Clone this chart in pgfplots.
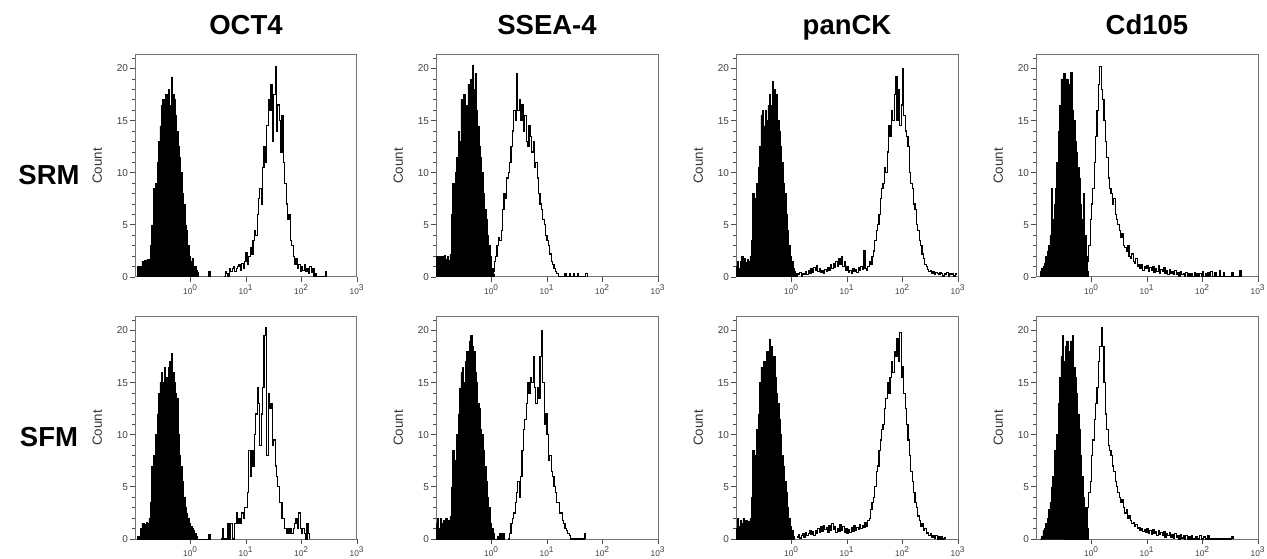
\documentclass[border=0pt]{standalone}
\usepackage{fontspec}
\setmainfont{Liberation Sans}
\usepackage{pgfplots}
\pgfplotsset{compat=1.18}
% Flow cytometry histograms: channels are 0.025 decades wide (log10 of intensity)
\pgfplotsset{
  table/row sep=\\,
  table/header=false,
  facs/.style={
    scale only axis, width=133.2pt, height=133.2pt, anchor=south west,
    xmin=-1, xmax=3, ymin=0, ymax=21.3,
    axis line style={draw=black!55, line width=0.6pt},
    xtick={0,1,2,3},
    xticklabels={10\textsuperscript{0},10\textsuperscript{1},10\textsuperscript{2},10\textsuperscript{3}},
    ytick={0,5,10,15,20}, yticklabels={0,5,10,15,20},
    minor ytick={1,2,3,4,6,7,8,9,11,12,13,14,16,17,18,19,21},
    tick align=outside, tick pos=left,
    major tick length=3pt, minor tick length=1.6pt,
    every tick/.style={black!70, line width=0.5pt},
    xticklabel style={font=\fontsize{5}{6}\selectfont, text=black!75, inner sep=0.5pt, yshift=-1.2pt},
    yticklabel style={font=\fontsize{6}{7}\selectfont, text=black!75, inner sep=1pt},
    ylabel={Count},
    ylabel style={font=\fontsize{8}{9}\selectfont, text=black!80, at={(axis description cs:-0.17,0.5)}, anchor=center},
  },
  filled/.style={const plot, draw=black, fill=black, line width=0.4pt},
  openhist/.style={const plot, draw=black, line width=0.7pt, fill=none},
}
\begin{document}
\begin{tikzpicture}
\useasboundingbox (0,0) rectangle (760.2pt,334.8pt);
% column and row headings
\tikzset{head/.style={font=\fontsize{16.5}{18}\selectfont\bfseries, inner sep=0pt, anchor=base}}
\node[head] at (147.6pt,313.8pt) {OCT4};
\node[head] at (328.2pt,313.8pt) {SSEA-4};
\node[head] at (508.2pt,313.8pt) {panCK};
\node[head] at (688.2pt,313.8pt) {Cd105};
\node[head] at (29.4pt,223.8pt) {SRM};
\node[head] at (29.4pt,66.6pt) {SFM};

% ---------------- SRM: OCT4
\begin{axis}[facs, at={(81pt,168.6pt)}]
\addplot[filled] table[x expr={-0.975+0.025*\coordindex}, y index=0] {
0\\ 1\\ 0.3\\ 1\\ 1.5\\ 1.4\\ 1.6\\ 1.3\\ 1.7\\ 1.5\\ 3\\ 5\\ 8.5\\ 6\\ 9\\ 11\\ 13\\ 14.5\\ 16.5\\ 17\\
15.5\\ 17.5\\ 16\\ 18\\ 16.5\\ 19.2\\ 17.5\\ 17\\ 15.5\\ 14\\ 12.5\\ 11.5\\ 10\\ 8\\ 7\\ 5\\ 4.5\\ 3\\ 2\\ 1.5\\
1.8\\ 1\\ 1\\ 0.6\\ 0.4\\ 0\\ 0\\ 0\\ 0\\ 0\\ 0\\ 0\\ 0.5\\ 0\\
} \closedcycle;
\addplot[openhist] table[x expr={0.6+0.025*\coordindex}, y index=0] {
0\\ 0.5\\ 0.3\\ 0\\ 0.8\\ 0.5\\ 0.8\\ 1\\ 0.5\\ 0.8\\ 1\\ 1.2\\ 0.6\\ 1.3\\ 0.8\\ 1.5\\ 2.3\\ 1.2\\ 2\\ 2.8\\
2.2\\ 3.5\\ 4.5\\ 4\\ 6\\ 7.5\\ 8.5\\ 7\\ 10.5\\ 12.5\\ 11\\ 14.5\\ 17\\ 16\\ 18.5\\ 13\\ 17.5\\ 20.2\\ 14\\ 16.5\\
15\\ 12\\ 15.5\\ 11\\ 9\\ 7\\ 5.5\\ 6\\ 3.5\\ 3\\ 2\\ 1.2\\ 1.8\\ 0.8\\ 1.2\\ 0.5\\ 1\\ 0.6\\ 1.2\\ 0.5\\
0.8\\ 0.3\\ 1\\ 0.4\\ 0.8\\ 0\\ 0.3\\ 0\\ 0\\ 0\\ 0\\ 0\\ 0\\ 0.5\\ 0\\
};
\end{axis}

% ---------------- SRM: SSEA-4
\begin{axis}[facs, at={(261.6pt,168.6pt)}]
\addplot[filled] table[x expr={-1+0.025*\coordindex}, y index=0] {
2\\ 1\\ 2\\ 1.2\\ 2\\ 1.8\\ 2.1\\ 1.7\\ 2\\ 1.6\\ 2.2\\ 6\\ 9\\ 7\\ 10\\ 11.5\\ 14\\ 13\\ 17\\ 16\\
17.5\\ 15\\ 16.5\\ 18.5\\ 17.5\\ 19\\ 20.3\\ 18\\ 19.5\\ 16\\ 14.5\\ 12.5\\ 11.5\\ 10\\ 8\\ 6.5\\ 5.5\\ 4\\ 3\\ 2\\
0.8\\ 0.3\\ 0\\
} \closedcycle;
\addplot[openhist] table[x expr={0+0.025*\coordindex}, y index=0] {
0\\ 0.5\\ 1.5\\ 2\\ 3\\ 3.8\\ 3.5\\ 4.5\\ 6.5\\ 8\\ 7.5\\ 9.5\\ 10\\ 11\\ 12.5\\ 14\\ 16\\ 15\\ 19.5\\ 16\\
17\\ 15\\ 16.5\\ 14\\ 15.5\\ 13\\ 12.5\\ 14.5\\ 13.5\\ 12\\ 13\\ 10.5\\ 11\\ 9.5\\ 8\\ 7\\ 6.5\\ 5.5\\ 5\\ 4\\
3.5\\ 3\\ 2.2\\ 1.5\\ 1.2\\ 0.8\\ 0.5\\ 0.3\\ 0\\ 0\\ 0\\ 0\\ 0\\ 0.3\\ 0\\ 0\\ 0.3\\ 0\\ 0\\ 0.3\\
0\\ 0\\ 0.3\\ 0\\ 0\\ 0\\ 0\\ 0\\ 0.3\\ 0\\
};
\end{axis}

% ---------------- SRM: panCK
\begin{axis}[facs, at={(441.6pt,168.6pt)}]
\addplot[filled] table[x expr={-1+0.025*\coordindex}, y index=0] {
1\\ 1.5\\ 0.8\\ 1.5\\ 2\\ 1.6\\ 1.8\\ 1.4\\ 1.7\\ 1.5\\ 2\\ 3.5\\ 8\\ 5\\ 7.5\\ 9\\ 10.5\\ 12.5\\ 15.5\\ 16\\
14.5\\ 16\\ 15\\ 16.5\\ 17.5\\ 16.5\\ 18.8\\ 18\\ 17\\ 17.5\\ 15\\ 14\\ 12.5\\ 11\\ 9\\ 8\\ 6\\ 4.5\\ 3\\ 2\\
1.5\\ 0.8\\ 0.5\\ 0.2\\ 0\\
} \closedcycle;
\addplot[openhist] table[x expr={0.075+0.025*\coordindex}, y index=0] {
0\\ 0.3\\ 0.2\\ 0.4\\ 0.1\\ 0.3\\ 0.2\\ 0.5\\ 0.2\\ 0.6\\ 0.3\\ 0.8\\ 0.4\\ 0.9\\ 0.6\\ 1.1\\ 0.5\\ 0.8\\ 0.4\\ 0.6\\
0.3\\ 0.7\\ 0.5\\ 0.9\\ 0.6\\ 1.2\\ 0.8\\ 1.3\\ 0.9\\ 1.5\\ 1\\ 1.8\\ 1.2\\ 2\\ 1\\ 1.5\\ 0.6\\ 1\\ 0.4\\ 0.6\\
0.3\\ 0.8\\ 0.5\\ 0.7\\ 0.4\\ 0.9\\ 0.6\\ 1\\ 0.7\\
2.5\\ 0.8\\ 0.6\\ 1\\ 1.5\\ 1.2\\ 2\\ 2.5\\ 3.5\\ 4.5\\ 5\\ 6\\ 7.5\\ 8.5\\ 9\\ 10.5\\ 10\\ 12\\ 14.5\\ 13.5\\
16\\ 15\\ 17.5\\ 19.2\\ 15\\ 18\\ 14.5\\ 16.5\\ 20\\ 15.5\\ 14\\ 13.5\\ 12.5\\ 10\\ 9\\ 8.5\\ 7\\ 6.5\\ 5\\ 4.5\\
3.5\\ 3\\ 2.2\\ 1.8\\ 1.2\\ 1\\ 0.7\\ 0.5\\ 0.6\\ 0.3\\ 0.5\\ 0.2\\ 0.4\\ 0.3\\ 0.2\\ 0.4\\ 0.3\\ 0.1\\ 0.3\\ 0.2\\
0.4\\ 0.1\\ 0.3\\ 0.2\\ 0.3\\ 0.1\\ 0.3\\ 0.2\\
};
\end{axis}

% ---------------- SRM: Cd105
\begin{axis}[facs, at={(621.6pt,168.6pt)}]
\addplot[filled] table[x expr={-0.95+0.025*\coordindex}, y index=0] {
0\\ 0.5\\ 0.8\\ 1\\ 1.3\\ 2\\ 2.5\\ 3\\ 4\\ 8.5\\ 5.5\\ 7\\ 8.5\\ 11\\ 14\\ 16.5\\ 19\\ 17\\ 19.5\\ 18\\
19\\ 17.5\\ 18.5\\ 19.6\\ 16\\ 15\\ 13\\ 12\\ 10.5\\ 9.5\\ 7\\ 5.5\\ 8\\ 4\\ 2\\ 0.5\\ 0\\
} \closedcycle;
\addplot[openhist] table[x expr={-0.125+0.025*\coordindex}, y index=0] {
0\\ 0.5\\ 1.5\\ 3\\ 5.5\\ 7\\ 8.5\\ 11\\ 13.5\\ 16\\ 18.5\\ 20.2\\ 18\\ 17\\ 15\\ 13\\ 11.5\\ 9.5\\ 8.5\\ 8\\
7\\ 7.5\\ 6\\ 5.5\\ 5\\ 4.5\\ 3.8\\ 4.2\\ 3\\ 2.8\\ 2.5\\ 3\\ 2\\ 1.8\\ 2.2\\ 1.5\\ 1.3\\ 1.8\\ 1\\ 1.2\\
0.8\\ 1.2\\ 0.6\\ 1\\ 0.8\\ 1.1\\ 0.5\\ 0.9\\ 0.6\\ 1\\ 0.4\\ 0.8\\ 0.5\\ 1.1\\ 0.3\\ 0.7\\ 0.5\\ 0.9\\ 0.3\\ 0.6\\
0.2\\ 0.7\\ 0.3\\ 0.5\\ 0.2\\ 0.6\\ 0.2\\ 0.4\\ 0.1\\ 0.5\\ 0.2\\ 0.3\\ 0.1\\ 0.4\\ 0.1\\ 0.3\\ 0\\ 0.3\\ 0\\ 0.4\\
0\\ 0.3\\ 0\\ 0.3\\ 0\\ 0.5\\ 0\\ 0.3\\ 0\\ 0.4\\ 0\\ 0.5\\ 0\\ 0\\ 0.4\\ 0\\ 0\\ 0.6\\ 0\\ 0\\
0.4\\ 0\\ 0\\ 0\\ 0\\ 0\\ 0.4\\ 0\\ 0\\ 0\\ 0\\ 0\\ 0.6\\ 0\\
};
\end{axis}

% ---------------- SFM: OCT4
\begin{axis}[facs, at={(81pt,11.4pt)}]
\addplot[filled] table[x expr={-0.95+0.025*\coordindex}, y index=0] {
0.3\\ 0\\ 1\\ 1.5\\ 1.5\\ 1.4\\ 1.6\\ 1.5\\ 2\\ 3.5\\ 7\\ 8\\ 6.5\\ 10\\ 12\\ 14\\ 15\\ 16\\ 15\\ 16.5\\
15.5\\ 14.5\\ 16.5\\ 17\\ 17.8\\ 16\\ 15\\ 14\\ 13.5\\ 10\\ 8\\ 7\\ 5.5\\ 4\\ 3\\ 2.5\\ 2\\ 1.5\\ 1.2\\ 1\\
0.8\\ 0.5\\ 0.3\\ 0\\ 0\\ 0\\ 0\\ 0\\ 0\\ 0\\ 0\\ 0.4\\ 0\\
} \closedcycle;
\addplot[openhist] table[x expr={0.55+0.025*\coordindex}, y index=0] {
0\\ 1\\ 0\\ 0\\ 0\\ 1.5\\ 0\\ 1.5\\ 0\\ 0\\ 1.5\\ 2.5\\ 1.5\\ 2\\ 1.5\\ 2.5\\ 2\\ 3\\
3\\ 4.5\\ 8.5\\ 6\\ 8.5\\ 7\\ 10\\ 12\\ 14.5\\ 13\\ 9\\ 12\\ 14.5\\ 19.5\\ 20.3\\ 8\\ 14\\ 12.5\\ 13\\ 9\\
9.5\\ 7\\ 6\\ 5\\ 3.5\\ 3.5\\ 2\\ 2\\ 1\\ 0.5\\ 1\\ 0.5\\ 1\\ 0.5\\ 1\\ 1.5\\ 2\\ 1\\ 2.5\\ 1\\
0.5\\ 1\\ 0.5\\ 0\\ 1.5\\ 0.5\\ 0\\
};
\end{axis}

% ---------------- SFM: SSEA-4
\begin{axis}[facs, at={(261.6pt,11.4pt)}]
\addplot[filled] table[x expr={-1+0.025*\coordindex}, y index=0] {
1.5\\ 2\\ 1\\ 2\\ 1.5\\ 1.8\\ 1.4\\ 2\\ 1.6\\ 1.8\\ 2.2\\ 5\\ 8.5\\ 6\\ 7.5\\ 10\\ 12\\ 14.5\\ 16\\ 16.5\\
15\\ 17\\ 18\\ 17.5\\ 19\\ 19.5\\ 18.5\\ 18\\ 16\\ 15\\ 13\\ 12.5\\ 10.5\\ 10\\ 8.5\\ 7\\ 5.5\\ 4\\ 3\\ 1.5\\
1\\ 0.5\\ 0\\ 0\\ 0.3\\ 0\\ 0.5\\ 0.3\\ 0.5\\ 0\\
} \closedcycle;
\addplot[openhist] table[x expr={0.3+0.025*\coordindex}, y index=0] {
0\\ 0.5\\ 1.5\\ 2\\ 2.5\\ 3.5\\ 4.5\\ 5.5\\ 4\\ 6\\ 8.5\\ 10.5\\ 11.5\\ 13\\ 15\\ 14\\ 15.5\\ 15\\ 17.5\\ 14.5\\
13\\ 14.5\\ 13.5\\ 17.5\\ 20\\ 15\\ 11\\ 12\\ 10\\ 7.5\\ 8\\ 6.5\\ 6\\ 5\\ 4.5\\ 3.5\\ 3.5\\ 2.5\\ 2.5\\ 1.8\\
1.5\\ 1\\ 0.8\\ 0.5\\ 0.3\\ 0\\ 0\\ 0\\ 0\\ 0\\ 0\\ 0\\ 0\\ 0\\ 0\\ 0.5\\ 0\\
};
\end{axis}

% ---------------- SFM: panCK
\begin{axis}[facs, at={(441.6pt,11.4pt)}]
\addplot[filled] table[x expr={-1+0.025*\coordindex}, y index=0] {
1\\ 2\\ 1.2\\ 1.8\\ 1.5\\ 2\\ 1.5\\ 1.8\\ 1.3\\ 1.7\\ 2\\ 4\\ 8.5\\ 6\\ 8\\ 10.5\\ 12\\ 15\\ 16.5\\ 15.5\\
17\\ 16\\ 18\\ 17.5\\ 19.2\\ 18.5\\ 17\\ 17.5\\ 15.5\\ 14\\ 13\\ 11.5\\ 10\\ 8\\ 7\\ 5.5\\ 4.5\\ 3\\ 2\\ 1.2\\
0.8\\ 0.3\\ 0\\
} \closedcycle;
\addplot[openhist] table[x expr={0.1+0.025*\coordindex}, y index=0] {
0.2\\ 0.4\\ 0.1\\ 0.3\\ 0.5\\ 0.2\\ 0.6\\ 0.3\\ 0.5\\ 0.8\\ 0.4\\ 0.7\\ 0.3\\ 0.8\\ 0.5\\ 1\\ 0.6\\ 1.2\\ 0.7\\ 1.3\\
0.9\\ 1.1\\ 0.6\\ 1.3\\ 0.8\\ 1.5\\ 0.9\\ 1.2\\ 0.6\\ 1\\ 0.7\\ 1.4\\ 0.8\\ 1.2\\ 0.6\\ 1\\ 0.5\\ 0.9\\ 0.6\\ 1.1\\
0.7\\ 1.3\\ 0.8\\ 1.1\\ 0.9\\ 1.4\\ 1\\ 1.3\\ 1.1\\ 1.6\\ 1.2\\ 1.8\\ 2\\ 2.8\\ 3.5\\ 4\\ 5\\ 6.5\\ 7\\ 8.5\\
9.5\\ 10.5\\ 11\\ 12.5\\ 13.5\\ 15\\ 14\\ 15.5\\ 17\\ 16\\ 18\\ 17.5\\ 19.2\\ 17\\ 19.8\\ 15.5\\ 16.5\\ 14\\ 12.5\\ 11\\
9.5\\ 8\\ 6.5\\ 5.5\\ 4.5\\ 3.5\\ 3\\ 2.2\\ 1.8\\ 1.2\\ 1.5\\ 0.8\\ 1\\ 0.5\\ 0.6\\ 0.3\\ 0.5\\ 0.2\\ 0.3\\ 0.1\\
0.3\\ 0\\ 0.2\\ 0\\ 0.2\\ 0\\ 0.1\\ 0\\
};
\end{axis}

% ---------------- SFM: Cd105
\begin{axis}[facs, at={(621.6pt,11.4pt)}]
\addplot[filled] table[x expr={-0.925+0.025*\coordindex}, y index=0] {
0\\ 0.3\\ 0.8\\ 1\\ 1.5\\ 2\\ 2.8\\ 3.5\\ 5\\ 6\\ 8.5\\ 7\\ 10\\ 13\\ 15.5\\ 17.5\\ 19.5\\ 17\\ 18.5\\ 19\\
18\\ 17.5\\ 19\\ 19.5\\ 16.5\\ 15.5\\ 14\\ 12\\ 10.5\\ 8\\ 6\\ 4\\ 3\\ 2\\ 1\\ 0\\
} \closedcycle;
\addplot[openhist] table[x expr={-0.125+0.025*\coordindex}, y index=0] {
0\\ 1\\ 3\\ 4.5\\ 5.5\\ 8\\ 9.5\\ 11.5\\ 13\\ 14.5\\ 17\\ 18.5\\ 20.3\\ 18.5\\ 15\\ 12\\ 10.5\\ 9\\ 8.5\\ 8\\
7\\ 6.5\\ 5.5\\ 5\\ 4.5\\ 4\\ 3.5\\ 3.8\\ 3\\ 2.5\\ 2.8\\ 2\\ 2.2\\ 1.8\\ 1.5\\ 1.6\\ 1.2\\ 1.4\\ 1\\ 1.1\\
0.8\\ 1\\ 0.7\\ 0.9\\ 0.6\\ 1\\ 0.5\\ 0.8\\ 0.4\\ 0.9\\ 0.5\\ 0.7\\ 0.3\\ 0.8\\ 0.4\\ 0.6\\ 0.3\\ 0.7\\ 0.2\\ 0.5\\
0.3\\ 0.6\\ 0.2\\ 0.4\\ 0.1\\ 0.5\\ 0.2\\ 0.3\\ 0\\ 0.4\\ 0.1\\ 0.3\\ 0\\ 0.3\\ 0\\ 0.2\\ 0\\ 0.3\\ 0\\ 0\\
0.2\\ 0\\ 0\\ 0.3\\ 0\\ 0\\ 0.2\\ 0\\ 0\\ 0.3\\ 0\\ 0\\ 0\\ 0\\ 0\\ 0\\ 0\\ 0\\ 0\\ 0\\
0\\ 0\\ 0\\ 0\\ 0\\ 0\\ 0.2\\ 0\\
};
\end{axis}
\end{tikzpicture}
\end{document}
